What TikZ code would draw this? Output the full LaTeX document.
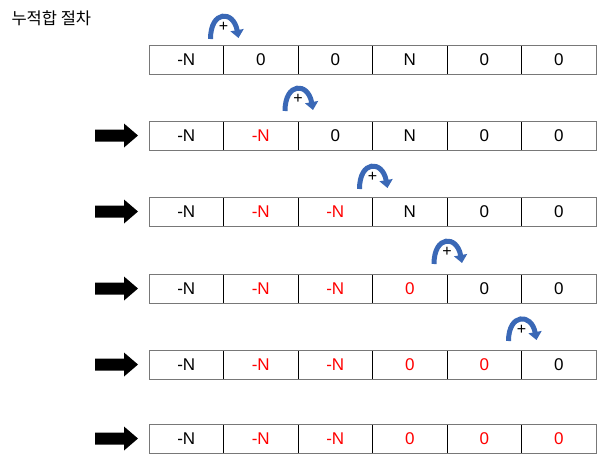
\documentclass[tikz,border=0pt]{standalone}
\usepackage{fontspec}
\setmainfont{Liberation Sans}
\newfontfamily\kr{Noto Sans CJK KR}
\usetikzlibrary{arrows.meta}
\definecolor{arcblue}{RGB}{58,104,182}
\definecolor{redtxt}{RGB}{255,0,0}
\definecolor{outergray}{RGB}{120,120,120}
\begin{document}
\begin{tikzpicture}[x=1pt,y=-1pt,
  cell/.style={draw=black,line width=0.9pt,minimum width=74.5pt,minimum height=29pt,inner sep=0pt,outer sep=0pt,font=\fontsize{17}{17}\selectfont},
  hot/.style={text=redtxt},
  curvearrow/.style={draw=arcblue,line width=5pt,-{Triangle[width=13pt,length=8pt]}},
  plus/.style={font=\fontsize{16}{16}\selectfont,inner sep=0pt},
  blockarrow/.style={fill=black}]
\useasboundingbox (0,0) rectangle (597,461);
\node[anchor=west,font=\kr\fontsize{16.5}{16.5}\selectfont] (title) at (8,18) {누적합 절차};
% rows
\foreach \k/\yc in {1/59.5,2/135.5,3/211.5,4/288.5,5/364.5,6/438.5}{
  \foreach \j in {1,...,6}{
    \pgfmathtruncatemacro{\isred}{(\j>1)&&(\j<=\k)}
    \ifnum\j=1 \def\val{-N}\else
      \ifnum\j<4 \ifnum\isred=1 \def\val{-N}\else\def\val{0}\fi
      \else\ifnum\j=4 \ifnum\isred=1 \def\val{0}\else\def\val{N}\fi
      \else \def\val{0}\fi\fi\fi
    \ifnum\isred=1
      \node[cell,hot] (r\k c\j) at ({149+74.5*(\j-0.5)},\yc) {\val};
    \else
      \node[cell] (r\k c\j) at ({149+74.5*(\j-0.5)},\yc) {\val};
    \fi
  }
  \draw[outergray,line width=1pt] (r\k c1.north west) rectangle (r\k c6.south east);
}
% curved arrows
\foreach \k/\b/\t in {1/38/15,2/110/87,3/188/165,4/263/240,5/340/318}{
  \path (r\k c\k.north east) coordinate (bd\k);
  \coordinate (s\k) at ([xshift=-13pt]bd\k |- 0,\b);
  \coordinate (e\k) at ([xshift=15pt]bd\k |- 0,\b);
  \coordinate (pc\k) at ([xshift=0pt]bd\k |- 0,{\t+12});
  \draw[curvearrow] ([yshift=-1pt]s\k) .. controls ([xshift=-13pt]bd\k |- 0,{\t-5}) and ([xshift=10pt]bd\k |- 0,{\t-5}) .. (e\k);
  \node[plus] (p\k) at (pc\k) {+};
}
% block arrows
\foreach \k in {2,3,4,5,6}{
  \coordinate (ba\k) at ([xshift=-54pt]r\k c1.west);
  \fill[blockarrow] (ba\k) ++(0,-6) -- ++(29,0) -- ++(0,-6) -- ++(14,12) -- ++(-14,12) -- ++(0,-6) -- ++(-29,0) -- cycle;
}
\end{tikzpicture}
\end{document}
